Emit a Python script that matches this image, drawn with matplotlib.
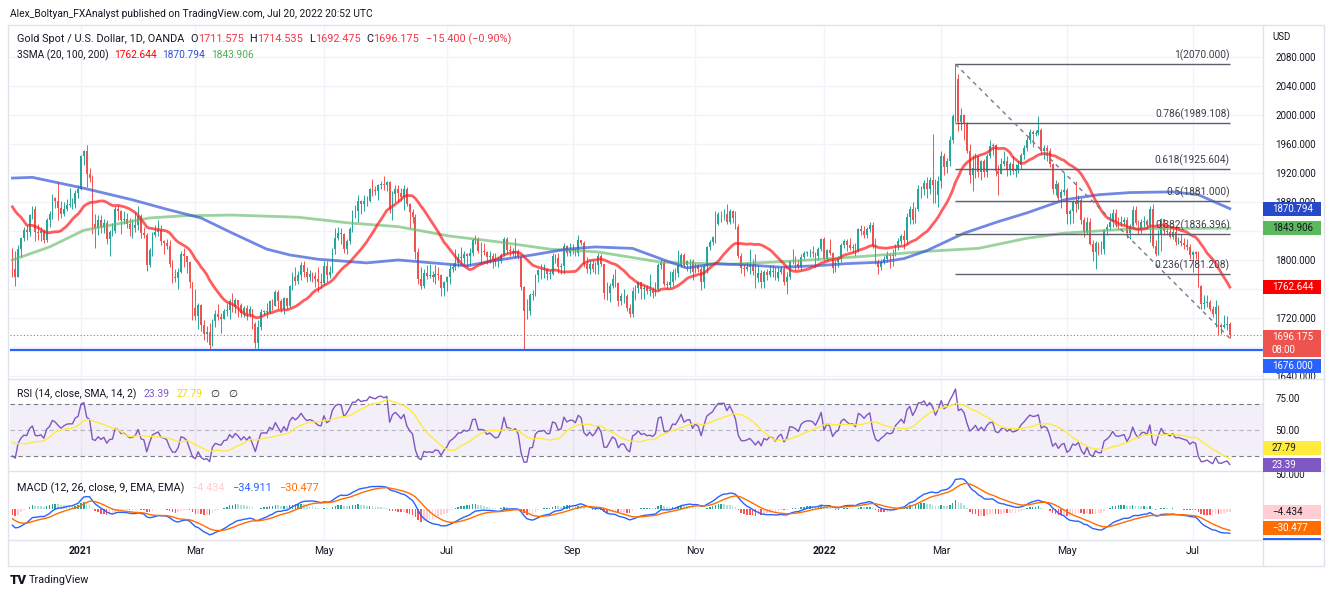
import numpy as np
import pandas as pd
import matplotlib
matplotlib.use("Agg")
import matplotlib.pyplot as plt
from matplotlib.patches import Rectangle
from matplotlib.lines import Line2D

W, H = 1332, 597
DARK = "#131722"
BORDER = "#e0e3eb"
GRID = "#f0f3fa"
UP, DOWN = "#26a69a", "#ef5350"

plt.rcParams["font.family"] = ["Roboto", "DejaVu Sans"]

# closes Sep 1 - Nov 26 2020, not shown, only to warm up SMA20 / RSI / MACD
prior_closes = [
    1970, 1944, 1931, 1934, 1930, 1931, 1946, 1954, 1942, 1940, 1956, 1954, 1959, 1945, 1950, 1911, 1900, 1863, 1868, 1862, 1881, 1886,
    1906, 1900, 1913, 1877, 1888, 1894, 1930, 1922, 1891, 1895, 1908, 1899, 1904, 1906, 1924, 1904, 1902, 1903, 1907, 1878, 1868, 1879,
    1895, 1909, 1904, 1947, 1951, 1864, 1876, 1866, 1874, 1887, 1889, 1873, 1880, 1865, 1871, 1872, 1837, 1806, 1812,
]

# daily bars XAUUSD, Nov 27 2020 - Jul 20 2022 (one row per month)
closes = [
    1788, 1776,
    1815, 1831, 1841, 1839, 1862, 1871, 1838, 1837, 1840, 1828, 1855, 1864, 1886, 1881, 1872, 1864, 1871, 1876, 1877, 1877, 1893, 1898,
    1943, 1950, 1918, 1913, 1849, 1844, 1855, 1845, 1851, 1829, 1839, 1840, 1871, 1867, 1855, 1856, 1850, 1843, 1844, 1848,
    1861, 1837, 1834, 1793, 1814, 1834, 1838, 1842, 1826, 1824, 1819, 1795, 1776, 1775, 1784, 1808, 1805, 1797, 1770, 1734,
    1723, 1738, 1711, 1698, 1700, 1683, 1716, 1726, 1722, 1719, 1730, 1731, 1744, 1735, 1745, 1738, 1727, 1734, 1725, 1732, 1712, 1685, 1707,
    1728, 1729, 1728, 1743, 1737, 1756, 1744, 1732, 1747, 1736, 1764, 1777, 1771, 1779, 1793, 1784, 1777, 1780, 1778, 1774, 1769, 1768,
    1792, 1779, 1784, 1815, 1831, 1837, 1836, 1815, 1826, 1843, 1867, 1868, 1881, 1877, 1881, 1882, 1898, 1896, 1895, 1903, 1905,
    1903, 1908, 1871, 1891, 1898, 1893, 1887, 1898, 1877, 1866, 1859, 1811, 1774, 1764, 1782, 1778, 1779, 1776, 1781, 1779, 1761, 1770,
    1776, 1787, 1791, 1796, 1803, 1803, 1808, 1806, 1809, 1828, 1829, 1812, 1812, 1811, 1804, 1806, 1802, 1798, 1799, 1807, 1829, 1814,
    1813, 1810, 1812, 1804, 1763, 1729, 1729, 1752, 1753, 1779, 1786, 1786, 1788, 1781, 1781, 1805, 1803, 1790, 1792, 1819, 1810, 1814,
    1814, 1810, 1827, 1823, 1795, 1788, 1795, 1787, 1793, 1805, 1794, 1754, 1754, 1764, 1774, 1768, 1743, 1750, 1750, 1734, 1726, 1757,
    1761, 1769, 1760, 1762, 1757, 1758, 1755, 1760, 1793, 1796, 1767, 1765, 1769, 1783, 1782, 1793, 1807, 1793, 1798, 1799, 1783,
    1793, 1788, 1769, 1792, 1818, 1825, 1832, 1849, 1863, 1863, 1864, 1852, 1868, 1858, 1845, 1805, 1789, 1788, 1790, 1793, 1785, 1775,
    1782, 1769, 1783, 1779, 1785, 1783, 1775, 1783, 1787, 1770, 1777, 1799, 1798, 1795, 1790, 1804, 1809, 1811, 1811, 1810, 1805, 1815, 1829,
    1801, 1814, 1810, 1789, 1797, 1801, 1821, 1826, 1821, 1817, 1818, 1813, 1843, 1840, 1835, 1843, 1848, 1819, 1797, 1791, 1797,
    1801, 1807, 1805, 1807, 1820, 1826, 1833, 1827, 1859, 1870, 1855, 1871, 1898, 1898, 1906, 1898, 1910, 1903, 1889, 1909,
    1944, 1928, 1936, 1966, 1998, 2050, 1990, 2000, 1988, 1951, 1917, 1927, 1943, 1921, 1936, 1921, 1944, 1957, 1958, 1923, 1919, 1933, 1937,
    1925, 1932, 1923, 1925, 1931, 1945, 1954, 1966, 1977, 1974, 1975, 1979, 1950, 1955, 1951, 1932, 1898, 1905, 1886, 1894, 1897,
    1863, 1868, 1881, 1877, 1883, 1855, 1838, 1853, 1822, 1811, 1824, 1815, 1815, 1841, 1846, 1853, 1865, 1853, 1851, 1853, 1855, 1837,
    1847, 1869, 1851, 1841, 1852, 1854, 1848, 1871, 1819, 1808, 1835, 1857, 1840, 1839, 1832, 1838, 1825, 1826, 1823, 1820, 1818, 1807,
    1811, 1808, 1764, 1739, 1740, 1742, 1733, 1725, 1735, 1710, 1708, 1710, 1711.575, 1696.175,
]
highs = [
    1817, 1812,
    1820, 1832, 1846, 1848, 1864, 1875, 1874, 1849, 1846, 1843, 1858, 1867, 1891, 1887, 1907, 1882, 1880, 1884, 1899, 1885, 1897, 1903,
    1945, 1952, 1959, 1927, 1917, 1864, 1862, 1862, 1857, 1855, 1841, 1851, 1874, 1876, 1869, 1867, 1865, 1858, 1857, 1866,
    1875, 1863, 1846, 1837, 1817, 1838, 1848, 1855, 1848, 1828, 1829, 1828, 1800, 1787, 1789, 1812, 1816, 1806, 1799, 1770,
    1760, 1740, 1739, 1717, 1709, 1713, 1718, 1731, 1739, 1727, 1733, 1740, 1746, 1755, 1747, 1745, 1740, 1737, 1738, 1737, 1733, 1714, 1717,
    1733, 1731, 1741, 1745, 1746, 1759, 1758, 1746, 1749, 1748, 1765, 1784, 1790, 1785, 1797, 1798, 1790, 1786, 1783, 1784, 1790, 1782,
    1799, 1798, 1792, 1816, 1844, 1845, 1844, 1837, 1829, 1845, 1869, 1876, 1890, 1883, 1889, 1888, 1900, 1912, 1902, 1905, 1909,
    1916, 1909, 1909, 1895, 1903, 1903, 1899, 1903, 1901, 1878, 1871, 1864, 1816, 1791, 1788, 1793, 1795, 1785, 1793, 1790, 1781, 1771,
    1778, 1795, 1795, 1815, 1809, 1818, 1812, 1809, 1816, 1830, 1834, 1832, 1825, 1823, 1812, 1813, 1809, 1810, 1804, 1810, 1832, 1832,
    1820, 1816, 1831, 1815, 1806, 1764, 1746, 1754, 1759, 1781, 1787, 1795, 1795, 1789, 1786, 1809, 1808, 1809, 1796, 1823, 1820, 1823,
    1822, 1816, 1834, 1827, 1826, 1804, 1800, 1802, 1797, 1809, 1808, 1795, 1769, 1768, 1781, 1788, 1770, 1754, 1760, 1753, 1739, 1763,
    1765, 1770, 1770, 1765, 1766, 1781, 1763, 1770, 1796, 1801, 1800, 1771, 1785, 1788, 1789, 1814, 1810, 1810, 1800, 1802, 1802,
    1796, 1794, 1792, 1794, 1819, 1827, 1833, 1868, 1866, 1867, 1870, 1877, 1870, 1869, 1867, 1849, 1810, 1794, 1797, 1815, 1801, 1808,
    1793, 1786, 1786, 1787, 1793, 1793, 1791, 1791, 1792, 1792, 1784, 1799, 1815, 1806, 1800, 1808, 1812, 1812, 1815, 1819, 1811, 1818, 1830,
    1832, 1815, 1829, 1811, 1800, 1806, 1823, 1829, 1829, 1830, 1822, 1823, 1844, 1848, 1847, 1846, 1853, 1853, 1830, 1801, 1802,
    1806, 1813, 1809, 1815, 1822, 1830, 1836, 1842, 1865, 1875, 1880, 1873, 1903, 1902, 1911, 1914, 1914, 1974, 1912, 1916,
    1950, 1947, 1941, 1971, 2002, 2070, 2057, 2009, 2002, 1990, 1960, 1945, 1948, 1942, 1938, 1939, 1946, 1966, 1961, 1960, 1931, 1941, 1950,
    1944, 1935, 1944, 1933, 1936, 1948, 1958, 1970, 1981, 1979, 1980, 1998, 1982, 1959, 1958, 1955, 1934, 1911, 1907, 1898, 1920,
    1900, 1871, 1883, 1909, 1890, 1885, 1859, 1859, 1858, 1827, 1826, 1825, 1826, 1843, 1850, 1865, 1870, 1870, 1859, 1860, 1859, 1859,
    1849, 1874, 1874, 1855, 1856, 1860, 1857, 1875, 1877, 1828, 1841, 1858, 1857, 1846, 1846, 1847, 1846, 1832, 1836, 1830, 1829, 1822,
    1813, 1812, 1812, 1766, 1752, 1752, 1745, 1737, 1745, 1738, 1713, 1724, 1723, 1714.535,
]
lows = [
    1776, 1764,
    1776, 1804, 1826, 1827, 1833, 1856, 1826, 1828, 1826, 1823, 1825, 1846, 1857, 1872, 1855, 1858, 1860, 1868, 1873, 1870, 1872, 1885,
    1896, 1931, 1901, 1907, 1836, 1816, 1835, 1837, 1837, 1822, 1805, 1833, 1837, 1855, 1836, 1849, 1844, 1833, 1831, 1838,
    1842, 1830, 1831, 1785, 1791, 1806, 1832, 1833, 1821, 1808, 1815, 1790, 1768, 1770, 1760, 1782, 1790, 1782, 1762, 1717,
    1717, 1705, 1702, 1690, 1687, 1676, 1682, 1707, 1717, 1699, 1718, 1723, 1719, 1728, 1727, 1722, 1722, 1721, 1717, 1721, 1705, 1678, 1677,
    1704, 1724, 1720, 1725, 1731, 1736, 1732, 1728, 1725, 1732, 1735, 1759, 1765, 1767, 1772, 1776, 1769, 1771, 1769, 1763, 1756, 1761,
    1766, 1770, 1775, 1782, 1808, 1827, 1822, 1810, 1808, 1822, 1839, 1858, 1852, 1863, 1868, 1874, 1880, 1888, 1889, 1883, 1898,
    1897, 1895, 1865, 1855, 1880, 1881, 1882, 1869, 1875, 1844, 1851, 1802, 1767, 1760, 1761, 1774, 1775, 1770, 1767, 1772, 1751, 1750,
    1757, 1767, 1783, 1786, 1791, 1793, 1795, 1791, 1792, 1806, 1822, 1809, 1794, 1807, 1794, 1796, 1789, 1792, 1791, 1796, 1805, 1810,
    1806, 1805, 1803, 1802, 1758, 1677, 1718, 1724, 1745, 1750, 1770, 1774, 1775, 1773, 1774, 1779, 1796, 1782, 1780, 1780, 1805, 1806,
    1808, 1806, 1806, 1820, 1790, 1782, 1781, 1784, 1781, 1780, 1792, 1746, 1745, 1742, 1761, 1763, 1737, 1738, 1741, 1730, 1721, 1722,
    1745, 1754, 1746, 1746, 1753, 1751, 1747, 1750, 1757, 1787, 1764, 1760, 1762, 1764, 1773, 1777, 1790, 1789, 1785, 1782, 1772,
    1782, 1784, 1758, 1762, 1782, 1814, 1821, 1824, 1848, 1853, 1855, 1849, 1850, 1851, 1843, 1803, 1782, 1778, 1785, 1781, 1779, 1762,
    1770, 1762, 1762, 1773, 1777, 1777, 1772, 1771, 1780, 1766, 1753, 1774, 1794, 1786, 1787, 1786, 1801, 1805, 1804, 1804, 1790, 1800, 1813,
    1798, 1799, 1807, 1782, 1783, 1790, 1797, 1816, 1812, 1814, 1811, 1805, 1811, 1835, 1831, 1831, 1838, 1816, 1794, 1780, 1786,
    1795, 1797, 1789, 1792, 1805, 1814, 1822, 1815, 1822, 1849, 1850, 1851, 1867, 1886, 1890, 1886, 1891, 1878, 1878, 1873,
    1900, 1917, 1920, 1929, 1961, 1990, 1978, 1980, 1965, 1948, 1906, 1895, 1913, 1915, 1911, 1915, 1915, 1941, 1945, 1916, 1890, 1918, 1929,
    1916, 1917, 1918, 1915, 1920, 1925, 1940, 1950, 1962, 1956, 1971, 1972, 1945, 1940, 1936, 1928, 1891, 1890, 1883, 1872, 1889,
    1850, 1850, 1851, 1866, 1870, 1850, 1832, 1836, 1821, 1799, 1787, 1807, 1808, 1808, 1834, 1841, 1846, 1845, 1843, 1847, 1848, 1830,
    1829, 1843, 1848, 1836, 1837, 1846, 1843, 1825, 1816, 1805, 1807, 1812, 1835, 1834, 1830, 1829, 1821, 1822, 1819, 1815, 1814, 1802,
    1784, 1802, 1763, 1733, 1732, 1735, 1730, 1722, 1707, 1697, 1698, 1706, 1704, 1692.475,
]

# SMA 100 / SMA 200 (they need history far before the window)
sma100_dates = ["2020-11-27", "2020-12-08", "2021-01-05", "2021-01-28", "2021-02-15", "2021-03-03", "2021-03-18",
                "2021-04-05", "2021-04-15", "2021-04-29", "2021-05-24", "2021-06-08", "2021-06-24", "2021-07-12",
                "2021-07-27", "2021-08-12", "2021-08-30", "2021-09-13", "2021-09-30", "2021-10-15", "2021-10-27",
                "2021-11-10", "2021-11-26", "2021-12-13", "2021-12-29", "2022-01-13", "2022-01-31", "2022-02-10",
                "2022-02-22", "2022-03-11", "2022-03-29", "2022-04-12", "2022-04-29", "2022-05-17", "2022-06-01",
                "2022-06-22", "2022-07-05", "2022-07-20"]
sma100_vals = [1913, 1914, 1899, 1883, 1870, 1858, 1837, 1815, 1807, 1801, 1796, 1800, 1796, 1792, 1800, 1807,
               1815, 1818, 1816, 1800, 1789, 1795, 1793, 1790, 1792, 1795, 1797, 1802, 1813, 1837, 1853, 1865,
               1883, 1890, 1893, 1894, 1890, 1870.794]
sma200_dates = ["2020-11-27", "2020-12-16", "2021-01-05", "2021-01-21", "2021-02-05", "2021-02-23", "2021-03-18",
                "2021-04-20", "2021-05-14", "2021-06-08", "2021-07-02", "2021-07-27", "2021-08-20", "2021-09-14",
                "2021-10-14", "2021-11-17", "2021-12-21", "2022-01-21", "2022-02-22", "2022-03-18", "2022-04-12",
                "2022-04-29", "2022-06-01", "2022-07-20"]
sma200_vals = [1800, 1818, 1841, 1850, 1858, 1861, 1862, 1859, 1851, 1846, 1833, 1825, 1815, 1811, 1797, 1794,
               1799, 1805, 1812, 1816, 1830, 1837, 1843, 1843.906]

fib_ratios = [1, 0.786, 0.618, 0.5, 0.382, 0.236]
fib_prices = [2070.000, 1989.108, 1925.604, 1881.000, 1836.396, 1781.208]
fib_start, fib_end = "2022-03-08", "2022-07-20"
fib_top, fib_bottom = 2070.0, 1692.0
support = 1676.0
last_close = 1696.175

month_ticks = ["2021-01", "2021-03", "2021-05", "2021-07", "2021-09", "2021-11",
               "2022-01", "2022-03", "2022-05", "2022-07"]
month_labels = ["2021", "Mar", "May", "Jul", "Sep", "Nov", "2022", "Mar", "May", "Jul"]

# price levels whose scale label sits under a value box
hidden_prices = [1680, 1760, 1840]

# ---- dates / indicators ----
n = len(closes)
dates = pd.bdate_range("2020-11-27", "2022-07-20")
dates = dates.drop(pd.to_datetime(["2020-12-25", "2021-01-01"]))[:n]
idx = np.arange(n)

o = np.array([prior_closes[-1]] + closes[:-1], dtype=float)
c = np.array(closes, dtype=float)
hi = np.array(highs, dtype=float)
lo = np.array(lows, dtype=float)

allc = pd.Series(prior_closes + closes, dtype=float)
k = len(prior_closes)
sma20 = allc.rolling(20).mean().values[k:]
d = allc.diff()
up = d.clip(lower=0).ewm(alpha=1 / 14, adjust=False).mean()
dn = (-d.clip(upper=0)).ewm(alpha=1 / 14, adjust=False).mean()
rsi_all = 100 - 100 / (1 + up / dn)
rsi = rsi_all.values[k:]
rsi_ma = rsi_all.rolling(14).mean().values[k:]
macd_all = allc.ewm(span=12, adjust=False).mean() - allc.ewm(span=26, adjust=False).mean()
sig_all = macd_all.ewm(span=9, adjust=False).mean()
hist_all = (macd_all - sig_all).values
macd = macd_all.values[k:]
sig = sig_all.values[k:]
hist = hist_all[k:]
prev_hist = hist_all[k - 1:-1]


def pos(ds):
    return dates.get_indexer(pd.to_datetime(ds), method="nearest")


# ---- figure ----
fig = plt.figure(figsize=(W / 100, H / 100), dpi=100)
fig.patch.set_facecolor("white")


def rect(left, top, right, bottom):
    return [left / W, 1 - bottom / H, (right - left) / W, (bottom - top) / H]


ax = fig.add_axes(rect(10, 26, 1263, 378))
ax_rsi = fig.add_axes(rect(10, 380, 1263, 470), sharex=ax)
ax_macd = fig.add_axes(rect(10, 472, 1263, 540), sharex=ax)

mt = [int(np.argmax(dates >= pd.Timestamp(m + "-01"))) for m in month_ticks]
for a in (ax, ax_rsi, ax_macd):
    for s in a.spines.values():
        s.set_visible(False)
    a.set_xticks(mt)
    a.grid(axis="x", color=GRID, lw=1)
    a.set_axisbelow(True)
    a.yaxis.tick_right()
    a.tick_params(axis="y", length=0, pad=9, labelsize=7, labelcolor=DARK)
    a.tick_params(axis="x", length=0)
ax.tick_params(labelbottom=False)
ax_rsi.tick_params(labelbottom=False)
ax.set_xlim(-0.84, 437.6)

# main pane
ax.set_ylim(1637.2, 2122.8)
pticks = np.arange(1640, 2081, 40)
ax.set_yticks(pticks)
ax.set_yticklabels(["" if p in hidden_prices else f"{p:.3f}" for p in pticks])
ax.grid(axis="y", color=GRID, lw=1)

col = np.where(c >= o, UP, DOWN)
ax.vlines(idx, lo, hi, colors=col, lw=0.7, zorder=2)
ax.bar(idx, np.maximum(np.abs(c - o), 0.6), bottom=np.minimum(o, c), width=0.62,
       color=col, linewidth=0, zorder=2)

ax.plot(pos(sma200_dates), sma200_vals, color="#66bb6a", alpha=0.65, lw=2, zorder=3)
ax.plot(pos(sma100_dates), sma100_vals, color="#3a5bd8", alpha=0.72, lw=2, zorder=3)
ax.plot(idx, sma20, color="#ff1a1a", alpha=0.7, lw=2, zorder=3)

f0, f1 = pos([fib_start, fib_end])
ax.hlines(fib_prices, f0, f1, color="#5d606b", lw=1, zorder=4)
for r, p in zip(fib_ratios, fib_prices):
    ax.annotate(f"{r:g}({p:.3f})", xy=(f1, p), xytext=(0, 2), textcoords="offset points",
                ha="right", va="bottom", fontsize=7.3, color="#3d3f47", zorder=5)
ax.plot([f0, f1], [fib_top, fib_bottom], color="#787b86", lw=1, ls=(0, (3, 3)), zorder=4)

ax.axhline(support, color="#2962ff", lw=1.6, zorder=4)
ax.axhline(last_close, color=DOWN, lw=0.8, ls=(0, (1, 2)), zorder=4)

# RSI pane
ax_rsi.set_ylim(19.2, 88.5)
ax_rsi.set_yticks([25, 50, 75])
ax_rsi.set_yticklabels(["", "50.00", "75.00"])
ax_rsi.axhspan(30, 70, color="#7e57c2", alpha=0.09, lw=0)
for lvl, al in ((70, 1), (50, 0.5), (30, 1)):
    ax_rsi.axhline(lvl, color="#787b86", lw=0.8, ls=(0, (4, 3)), alpha=al)
ax_rsi.plot(idx, rsi, color="#7e57c2", lw=1)
ax_rsi.plot(idx, rsi_ma, color="#ffeb3b", lw=1)

# MACD pane
ax_macd.set_ylim(-44.3, 52.9)
ax_macd.set_yticks([0, 50])
ax_macd.set_yticklabels(["", "50.000"])
hcol = np.where(hist >= 0, np.where(hist > prev_hist, "#26a69a", "#b2dfdb"),
                np.where(hist > prev_hist, "#ffcdd2", "#ff5252"))
ax_macd.bar(idx, hist, width=0.55, color=hcol, linewidth=0)
ax_macd.plot(idx, macd, color="#2962ff", lw=1)
ax_macd.plot(idx, sig, color="#ff6d00", lw=1)
ax_macd.set_xticklabels(month_labels)
ax_macd.tick_params(axis="x", pad=4.5, labelsize=7.5, labelcolor=DARK)
for t in ax_macd.get_xticklabels():
    if t.get_text() in ("2021", "2022"):
        t.set_fontweight("bold")


# ---- frame / separators ----
def fline(x0, y0, x1, y1, color=BORDER):
    fig.add_artist(Line2D([x0 / W, x1 / W], [1 - y0 / H, 1 - y1 / H], transform=fig.transFigure,
                          color=color, lw=1, zorder=1))


fig.add_artist(Rectangle((8 / W, 1 - 566 / H), 1316 / W, 541 / H, transform=fig.transFigure,
                         fill=False, edgecolor=BORDER, lw=1))
for yy in (379, 471, 540):
    fline(8, yy, 1324, yy)
fline(1263, 25, 1263, 566)


# ---- axis value boxes ----
def box(a, value, text, face, tc, dy=0, h=14):
    yc = H - a.transData.transform((0, value))[1] - dy
    fig.add_artist(Rectangle((1263 / W, 1 - (yc + h / 2) / H), 58 / W, h / H,
                             transform=fig.transFigure, facecolor=face, edgecolor="none", zorder=5))
    fig.text(1272 / W, 1 - yc / H, text, color=tc, fontsize=7, va="center", ha="left",
             linespacing=1.35, zorder=6)


box(ax, sma100_vals[-1], "1870.794", "#2748c8", "white")
box(ax, sma200_vals[-1], "1843.906", "#5cb85c", DARK)
box(ax, 1762.644, "1762.644", "#fa0000", "white")
box(ax, last_close, "1696.175\n08:00", "#ef5350", "white", dy=-8.5, h=27)
box(ax, support, "1676.000", "#2962ff", "white", dy=-16)
box(ax_rsi, 27.79, "27.79", "#ffeb3b", DARK, dy=10.4)
box(ax_rsi, 23.39, "23.39", "#7e57c2", "white")
fig.add_artist(Rectangle((1263 / W, 1 - 540 / H), 58 / W, 2.5 / H, transform=fig.transFigure,
                         facecolor="#2962ff", edgecolor="none", zorder=5))
box(ax_macd, -4.434, "\u22124.434", "#ffcdd2", DARK)
box(ax_macd, -30.477, "\u221230.477", "#ff6d00", "white", dy=2)
fig.text(1272 / W, 1 - 37 / H, "USD", fontsize=7, color=DARK, va="center")

# ---- texts ----
renderer = fig.canvas.get_renderer()


def chain(x, y, parts, size=7.3, weight="normal"):
    for s, colr, gap in parts:
        t = fig.text(x / W, 1 - y / H, s, color=colr, fontsize=size, va="center", ha="left",
                     fontweight=weight)
        x += t.get_window_extent(renderer).width + gap


fig.text(10 / W, 1 - 14 / H, "Alex_Boltyan_FXAnalyst published on TradingView.com, Jul 20, 2022 20:52 UTC",
         fontsize=7.4, color=DARK, va="center")
RED = "#f23645"
chain(17, 39, [("Gold Spot / U.S. Dollar, 1D, OANDA", DARK, 6), ("O", DARK, 0), ("1711.575", RED, 6),
               ("H", DARK, 0), ("1714.535", RED, 6), ("L", DARK, 0), ("1692.475", RED, 6),
               ("C", DARK, 0), ("1696.175", RED, 7), ("\u221215.400 (\u22120.90%)", RED, 0)], size=7.8)
chain(17, 55, [("3SMA (20, 100, 200)", DARK, 5), ("1762.644", "#ff0000", 6), ("1870.794", "#2f52d4", 6),
               ("1843.906", "#4caf50", 0)], size=7.3)
chain(17, 394, [("RSI (14, close, SMA, 14, 2)", DARK, 7), ("23.39", "#7e57c2", 7), ("27.79", "#f5d800", 8),
                ("\u2205", DARK, 9), ("\u2205", DARK, 0)], size=7.5)
chain(17, 488, [("MACD (12, 26, close, 9, EMA, EMA)", DARK, 7), ("\u22124.434", "#ffcdd2", 7),
                ("\u221234.911", "#2962ff", 8), ("\u221230.477", "#ff6d00", 0)], size=7.8)
chain(10, 580, [("TV", DARK, 3)], size=9.5, weight="heavy")
fig.text(29 / W, 1 - 580 / H, "TradingView", fontsize=7.8, color=DARK, va="center")

fig.savefig("out.png", dpi=100, facecolor="white")
